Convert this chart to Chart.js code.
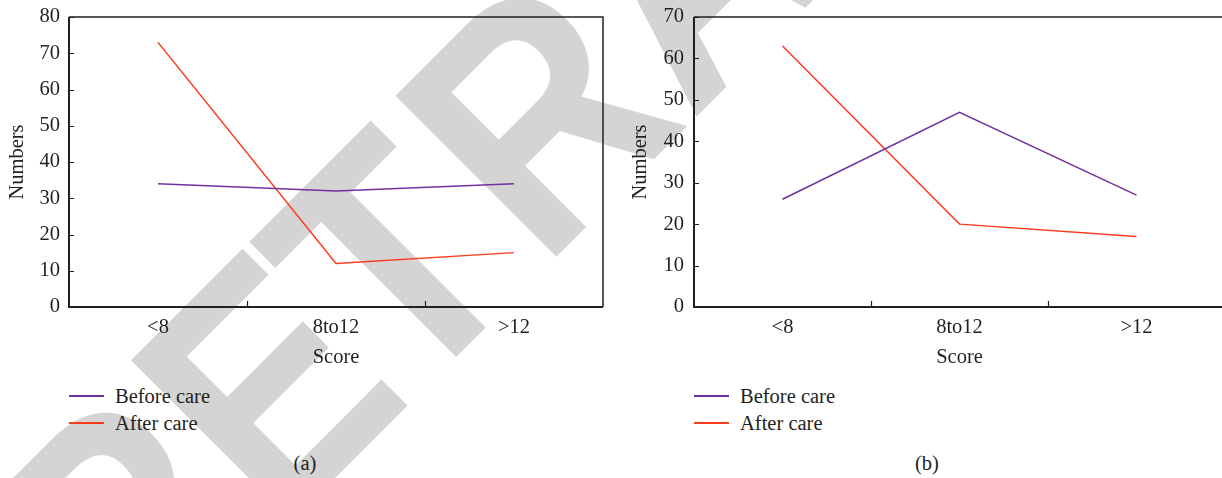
<!DOCTYPE html>
<html>
<head>
<meta charset="utf-8">
<script src="https://cdn.jsdelivr.net/npm/chart.js@4.4.1/dist/chart.umd.min.js"></script>
<style>
  html, body { margin: 0; padding: 0; background: #fff; }
  body { width: 1222px; height: 478px; overflow: hidden; position: relative;
         font-family: "Liberation Serif", "Times New Roman", serif; color: #231f20; }
  #stamp { position: absolute; left: 0; top: 0; z-index: 0; }
  .panel { position: absolute; top: 0; z-index: 1; }
  .legend { position: absolute; z-index: 2; font-size: 20.5px; }
  .legend .item { position: absolute; left: 0; height: 24px; display: flex; align-items: center; white-space: nowrap; }
  .legend .swatch { width: 35px; height: 1.5px; margin-right: 11px; }
  .caption { position: absolute; z-index: 2; font-size: 20.5px; transform: translate(-50%, -50%); white-space: nowrap; }
</style>
</head>
<body>
<svg id="stamp" width="1222" height="478">
  <text transform="rotate(-45) scale(0.88,1)" font-family="Liberation Sans, Arial, sans-serif"
        font-weight="bold" font-size="331" fill="#d4d4d4"><tspan x="-447.7" y="575">R</tspan><tspan x="-206.3" y="575">E</tspan><tspan x="2.3" y="575">T</tspan><tspan x="218.8" y="575">R</tspan><tspan x="458" y="575">A</tspan><tspan y="575">CTED</tspan></text>
</svg>

<canvas id="chartA" class="panel"></canvas>
<canvas id="chartB" class="panel"></canvas>
<div id="legendA" class="legend"></div>
<div id="legendB" class="legend"></div>
<div class="caption" style="left:305px; top:463px;">(a)</div>
<div class="caption" style="left:927px; top:463px;">(b)</div>

<script>
// Score groups on the x axis
const categories = ['<8', '8to12', '>12'];
const seriesNames = ['Before care', 'After care'];
const seriesColors = ['#7030a0', '#fe3a1c'];

// Panel (a)
const beforeA = [34, 32, 34];
const afterA = [73, 12, 15];
const yMaxA = 80;

// Panel (b)
const beforeB = [26, 47, 27];
const afterB = [63, 20, 17];
const yMaxB = 70;

const yStep = 10;
const ink = '#231f20';
const fontFamily = '"Liberation Serif", "Times New Roman", serif';
const fontSize = 20.5;

// Frame around the plot area plus short inward tick marks
const framePlugin = {
  id: 'frame',
  beforeDatasetsDraw(chart) {
    const { ctx, chartArea: a, scales: { x, y } } = chart;
    ctx.save();
    ctx.strokeStyle = ink;
    ctx.lineWidth = 1.2;
    ctx.beginPath();
    y.ticks.forEach((t, i) => {
      const py = Math.round(y.getPixelForTick(i)) + 0.5;
      ctx.moveTo(a.left, py);
      ctx.lineTo(a.left + 5, py);
    });
    for (let i = 0; i < x.ticks.length - 1; i++) {
      const px = Math.round((x.getPixelForTick(i) + x.getPixelForTick(i + 1)) / 2) + 0.5;
      ctx.moveTo(px, a.bottom);
      ctx.lineTo(px, a.bottom - 6);
    }
    ctx.stroke();

    ctx.lineWidth = 1.5;
    ctx.beginPath();
    ctx.moveTo(a.left, a.top);
    ctx.lineTo(a.right, a.top);
    ctx.lineTo(a.right, a.bottom);
    ctx.stroke();

    ctx.lineWidth = 2;
    ctx.beginPath();
    ctx.moveTo(a.left, a.top);
    ctx.lineTo(a.left, a.bottom);
    ctx.lineTo(a.right, a.bottom);
    ctx.stroke();
    ctx.restore();
  }
};

function makePanel(canvasId, legendId, before, after, yMax, geo) {
  const canvas = document.getElementById(canvasId);
  canvas.style.left = geo.left + 'px';
  canvas.width = geo.width;
  canvas.height = geo.height;
  canvas.style.width = geo.width + 'px';
  canvas.style.height = geo.height + 'px';

  const values = [before, after];
  const datasets = values.map((v, i) => ({
    label: seriesNames[i],
    data: v,
    borderColor: seriesColors[i],
    backgroundColor: seriesColors[i],
    borderWidth: 1.5,
    pointRadius: 0,
    pointHoverRadius: 0,
    tension: 0,
    fill: false
  }));

  const tickFont = { family: fontFamily, size: fontSize, lineHeight: 1.2 };

  new Chart(canvas, {
    type: 'line',
    data: { labels: categories, datasets },
    plugins: [framePlugin],
    options: {
      responsive: false,
      animation: false,
      events: [],
      layout: { padding: { top: 17, right: geo.right, bottom: 0, left: 0 } },
      plugins: { legend: { display: false }, tooltip: { enabled: false } },
      scales: {
        x: {
          type: 'category',
          offset: true,
          grid: { display: false, drawTicks: false },
          border: { display: false },
          ticks: { color: ink, font: tickFont, padding: 8, maxRotation: 0, autoSkip: false },
          title: { display: true, text: 'Score', color: ink, font: tickFont, padding: { top: 0, bottom: 0 } },
          afterFit(s) {
            s.height = geo.height - 307;
            s.paddingLeft = 0; s.paddingRight = 0;
          }
        },
        y: {
          min: 0,
          max: yMax,
          grid: { display: false, drawTicks: false },
          border: { display: false },
          ticks: { stepSize: yStep, color: ink, font: tickFont, padding: geo.labelPad },
          title: { display: true, text: 'Numbers', color: ink, font: tickFont, padding: { top: geo.titlePad, bottom: 0 } },
          afterFit(s) {
            s.width = geo.axisWidth;
            s.paddingTop = 0; s.paddingBottom = 0;
          }
        }
      }
    }
  });

  // Legend rows under the axis title
  const legend = document.getElementById(legendId);
  legend.style.left = geo.legendLeft + 'px';
  legend.style.top = '0px';
  datasets.forEach((d, i) => {
    const row = document.createElement('div');
    row.className = 'item';
    row.style.top = (396 + i * 27 - 12) + 'px';
    const sw = document.createElement('span');
    sw.className = 'swatch';
    sw.style.background = d.borderColor;
    const tx = document.createElement('span');
    tx.textContent = d.label;
    row.appendChild(sw);
    row.appendChild(tx);
    legend.appendChild(row);
  });
}

makePanel('chartA', 'legendA', beforeA, afterA, yMaxA,
  { left: 0, width: 611, height: 370, right: 8, axisWidth: 69, labelPad: 9, titlePad: 5, legendLeft: 69 });
makePanel('chartB', 'legendB', beforeB, afterB, yMaxB,
  { left: 620, width: 613, height: 370, right: 8, axisWidth: 74, labelPad: 10, titlePad: 8, legendLeft: 694 });
</script>
</body>
</html>
